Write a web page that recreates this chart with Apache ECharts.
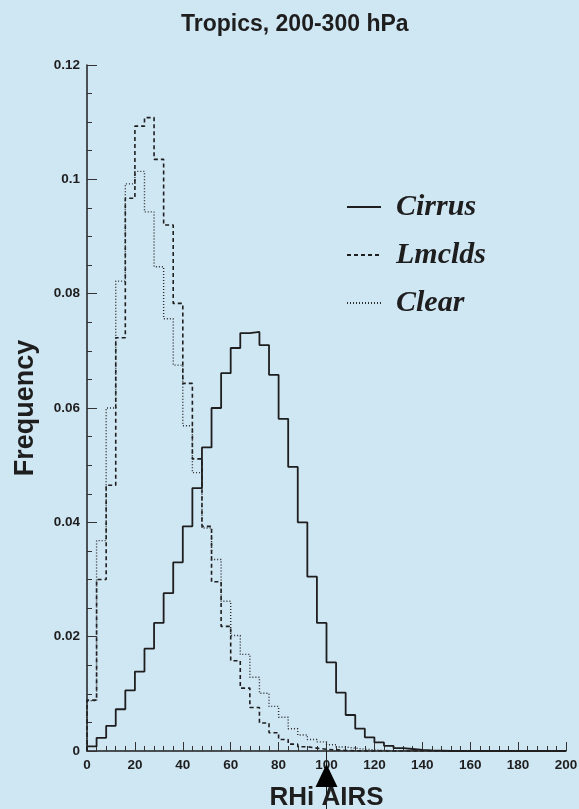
<!DOCTYPE html>
<html>
<head>
<meta charset="utf-8">
<script src="https://cdn.jsdelivr.net/npm/echarts@6/dist/echarts.min.js"></script>
<style>
html,body{margin:0;padding:0;background:#cfe6f3;}
#chart{width:579px;height:809px;}
</style>
</head>
<body>
<div id="chart"></div>
<script>
// ---- data (histograms, 4-unit RHi bins starting at 0) ----
const binStart = 0;
const binWidth = 4;
const seriesNames = ['Cirrus', 'Lmclds', 'Clear'];
const cirrus = [0.0008, 0.0023, 0.0044, 0.0073, 0.0106, 0.0139, 0.0179, 0.0224, 0.0276, 0.0330,
                0.0393, 0.0460, 0.0531, 0.0600, 0.0661, 0.0705, 0.0731, 0.0733, 0.0710, 0.0658,
                0.0581, 0.0497, 0.0400, 0.0305, 0.0224, 0.0155, 0.0102, 0.0063, 0.0039, 0.0024,
                0.0015, 0.0009, 0.0005, 0.00035, 0.0002, 0.0001, 0.00005, 0, 0, 0,
                0, 0, 0, 0, 0, 0, 0, 0, 0, 0];
const lmclds = [0.0089, 0.0300, 0.0465, 0.0723, 0.0967, 0.1093, 0.1108, 0.1035, 0.0920, 0.0783,
                0.0643, 0.0511, 0.0393, 0.0296, 0.0218, 0.0158, 0.0110, 0.0076, 0.0049, 0.0032,
                0.0020, 0.0012, 0.00075, 0.0005, 0.0003, 0.0002, 0.0001, 0.00005, 0, 0,
                0, 0, 0, 0, 0, 0, 0, 0, 0, 0,
                0, 0, 0, 0, 0, 0, 0, 0, 0, 0];
const clear  = [0.0088, 0.0368, 0.0600, 0.0822, 0.0992, 0.1014, 0.0943, 0.0847, 0.0756, 0.0675,
                0.0569, 0.0487, 0.0390, 0.0335, 0.0262, 0.0202, 0.0169, 0.0129, 0.0101, 0.0078,
                0.0059, 0.0039, 0.0028, 0.0020, 0.0016, 0.0011, 0.0007, 0.0005, 0.0003, 0.0002,
                0.0001, 0.00005, 0, 0, 0, 0, 0, 0, 0, 0,
                0, 0, 0, 0, 0, 0, 0, 0, 0, 0];
const arrowValue = 100; // RHi AIRS marker
const titleText = 'Tropics, 200-300 hPa';
const xName = 'RHi AIRS';
const yName = 'Frequency';

// build step-histogram points: left edge of each bin, plus closing edge
function stepData(vals) {
  const pts = [[binStart, 0]];
  vals.forEach((v, i) => pts.push([binStart + i * binWidth, v]));
  pts.push([binStart + vals.length * binWidth, vals[vals.length - 1]]);
  return pts;
}

const ink = '#1e1e1e';
const noSymbol = {color: 'rgba(0,0,0,0)', borderWidth: 0, opacity: 0};
const chart = echarts.init(document.getElementById('chart'));
const option = {
  backgroundColor: '#cfe6f3',
  animation: false,
  title: {
    text: titleText, left: 176, top: 8,
    textStyle: {fontFamily: 'Liberation Sans', fontWeight: 'bold', fontSize: 23, color: ink}
  },
  grid: {left: 87, right: 13, top: 65, bottom: 58, containLabel: false, outerBoundsMode: 'none'},
  legend: {
    show: true,
    orient: 'vertical', left: 341, top: 186,
    itemWidth: 34, itemHeight: 14, itemGap: 16,
    data: seriesNames.map(n => ({name: n, itemStyle: noSymbol})),
    textStyle: {fontFamily: 'Liberation Serif', fontStyle: 'italic', fontWeight: 'bold',
                fontSize: 30, color: ink, padding: [0, 0, 0, 10], lineHeight: 32}
  },
  xAxis: {
    type: 'value', min: 0, max: 200, interval: 20,
    name: xName, nameLocation: 'middle', nameGap: 34,
    nameTextStyle: {fontFamily: 'Liberation Sans', fontWeight: 'bold', fontSize: 26, color: ink},
    axisLine: {show: true, onZero: false, lineStyle: {color: ink, width: 1.5}},
    axisTick: {show: true, inside: true, length: 9, lineStyle: {color: '#333', width: 1}},
    minorTick: {show: true, splitNumber: 5, length: 5, lineStyle: {color: '#333', width: 1}},
    axisLabel: {margin: 7, fontFamily: 'Liberation Sans', fontWeight: 'bold', fontSize: 13.5, color: ink},
    splitLine: {show: false}
  },
  yAxis: {
    type: 'value', min: 0, max: 0.12, interval: 0.02,
    name: yName, nameLocation: 'middle', nameGap: 48,
    nameTextStyle: {fontFamily: 'Liberation Sans', fontWeight: 'bold', fontSize: 27, color: ink},
    axisLine: {show: true, lineStyle: {color: ink, width: 1.5}},
    axisTick: {show: true, inside: true, length: 10, lineStyle: {color: '#333', width: 1}},
    minorTick: {show: true, splitNumber: 4, length: 5, lineStyle: {color: '#333', width: 1}},
    axisLabel: {margin: 7, fontFamily: 'Liberation Sans', fontWeight: 'bold', fontSize: 13.5, color: ink},
    splitLine: {show: false}
  },
  series: [
    {name: seriesNames[0], type: 'line', step: 'end', showSymbol: false, symbol: 'none',
     data: stepData(cirrus), lineStyle: {color: ink, width: 1.8, type: 'solid'}, itemStyle: {color: ink}},
    {name: seriesNames[1], type: 'line', step: 'end', showSymbol: false, symbol: 'none',
     data: stepData(lmclds), lineStyle: {color: ink, width: 1.6, type: [4, 3]}, itemStyle: {color: ink}},
    {name: seriesNames[2], type: 'line', step: 'end', showSymbol: false, symbol: 'none',
     data: stepData(clear), lineStyle: {color: '#2a2a2a', width: 1.4, type: [1, 2]}, itemStyle: {color: '#2a2a2a'}}
  ]
};
chart.setOption(option);

// arrow marker under the x axis, located through the axis scale
const ax = chart.convertToPixel({xAxisIndex: 0}, arrowValue);
const y0 = chart.convertToPixel({yAxisIndex: 0}, 0);
chart.setOption({
  graphic: [
    {type: 'line', z: 100, shape: {x1: ax, y1: y0, x2: ax, y2: 809},
     style: {stroke: ink, lineWidth: 1}},
    {type: 'polygon', z: 100,
     shape: {points: [[ax, y0 + 13], [ax - 11, y0 + 36], [ax + 11, y0 + 36]]},
     style: {fill: '#000'}}
  ]
});
</script>
</body>
</html>
